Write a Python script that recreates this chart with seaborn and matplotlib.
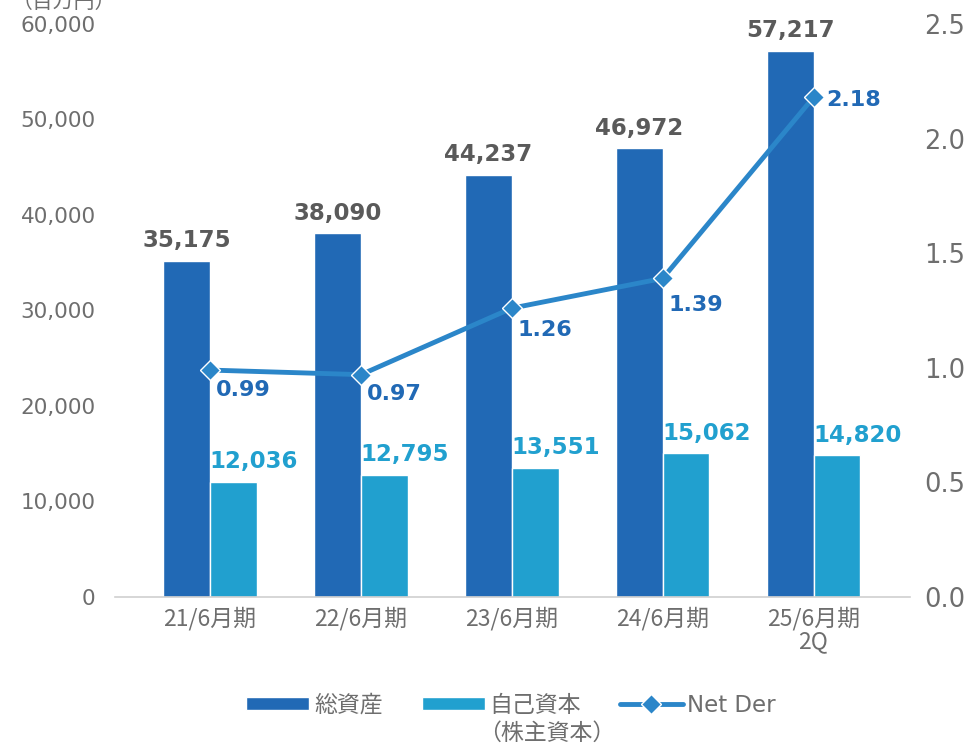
import numpy as np
import pandas as pd
import matplotlib
matplotlib.use("Agg")
import matplotlib.pyplot as plt
from matplotlib.lines import Line2D
from matplotlib.patches import Patch
import seaborn as sns

periods = ["21/6月期", "22/6月期", "23/6月期", "24/6月期", "25/6月期\n2Q"]
total_assets = [35175, 38090, 44237, 46972, 57217]
equity = [12036, 12795, 13551, 15062, 14820]
net_der = [0.99, 0.97, 1.26, 1.39, 2.18]
left_ticks = [0, 10000, 20000, 30000, 40000, 50000, 60000]
right_ticks = [0.0, 0.5, 1.0, 1.5, 2.0, 2.5]

c_total = "#2169b5"
c_equity = "#21a0cf"
c_line = "#2b86c9"
c_gray = "#6e6e6e"

sns.set_style("white")
plt.rcParams["font.family"] = ["DejaVu Sans", "Noto Sans CJK JP"]
cjk = ["Noto Sans CJK JP", "DejaVu Sans"]

df = pd.DataFrame({
    "period": periods * 2,
    "value": total_assets + equity,
    "kind": ["総資産"] * 5 + ["自己資本"] * 5,
})

fig = plt.figure(figsize=(9.7, 7.45), dpi=100)
ax = fig.add_axes([0.1186, 0.1987, 0.8196, 0.7691])

sns.barplot(data=df, x="period", y="value", hue="kind", palette=[c_total, c_equity],
            width=0.62, saturation=1, ax=ax, legend=False)

ax.set_xlim(-0.63, 4.64)
ax.set_ylim(0, 60000)
ax.set_yticks(left_ticks)
ax.set_yticklabels([f"{v:,}" for v in left_ticks], color=c_gray, fontsize=15.5)
ax.set_xticks(range(len(periods)))
ax.set_xticklabels(periods, color=c_gray, fontsize=16.5, linespacing=1.0, family=cjk)
ax.tick_params(axis="x", length=0, pad=7)
ax.tick_params(axis="y", length=0, pad=14)
ax.set_xlabel("")
ax.set_ylabel("")
for s in ["top", "left", "right"]:
    ax.spines[s].set_visible(False)
ax.spines["bottom"].set_color("#d0d0d0")
ax.spines["bottom"].set_linewidth(1.2)

x = np.arange(len(periods))
for i, v in enumerate(total_assets):
    ax.text(x[i] - 0.155, v + 900, f"{v:,}", ha="center", va="bottom",
            fontsize=16.5, fontweight="bold", color="#5a5a5a")
for i, v in enumerate(equity):
    ax.text(x[i] + 0.29, v + 900, f"{v:,}", ha="center", va="bottom",
            fontsize=16.5, fontweight="bold", color=c_equity)

ax2 = ax.twinx()
sns.lineplot(x=x, y=net_der, ax=ax2, color=c_line, linewidth=3.5, marker="D",
             markersize=10, markeredgecolor="white", markeredgewidth=1)
ax2.set_ylim(0, 2.5)
ax2.set_yticks(right_ticks)
ax2.set_yticklabels([f"{v:.1f}" for v in right_ticks], color=c_gray, fontsize=18.5)
ax2.tick_params(axis="y", length=0, pad=10)
for s in ["top", "left", "right", "bottom"]:
    ax2.spines[s].set_visible(False)

offsets = [(4, -14), (4, -14), (4, -16), (4, -19), (9, -2)]
for i, v in enumerate(net_der):
    ax2.annotate(f"{v:.2f}", (x[i], v), xytext=offsets[i], textcoords="offset points",
                 ha="left", va="center", fontsize=16, fontweight="bold", color=c_total)

fig.text(0.012, 0.997, "（百万円）", ha="left", va="center", color=c_gray, fontsize=15,
         family=cjk)

handles = [
    Patch(facecolor=c_total),
    Patch(facecolor=c_equity),
    Line2D([0], [0], color=c_line, linewidth=3.5, marker="D", markersize=10,
           markeredgecolor="white"),
]
labels = ["総資産", "自己資本", "Net Der"]
leg = fig.legend(handles, labels, loc="upper center", bbox_to_anchor=(0.527, 0.069),
                 ncol=3, frameon=False, handlelength=2.75, handleheight=0.55,
                 columnspacing=1.7, handletextpad=0.2, labelcolor=c_gray,
                 borderaxespad=0, borderpad=0,
                 prop={"family": ["DejaVu Sans", "Noto Sans CJK JP"], "size": 16.5})
# second line of the equity label
fig.canvas.draw()
ax.annotate("（株主資本）", xy=(0, 0), xycoords=leg.get_texts()[1], xytext=(-8, -4),
            textcoords="offset points", ha="left", va="top", fontsize=16.5,
            color=c_gray, family=cjk, annotation_clip=False)

fig.savefig("out.png", dpi=100)
